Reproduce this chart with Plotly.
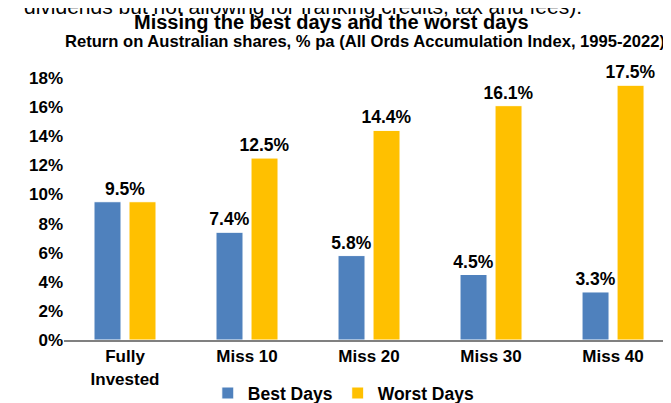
import plotly.graph_objects as go

categories = ["Fully<br>Invested", "Miss 10", "Miss 20", "Miss 30", "Miss 40"]
best_days = [9.5, 7.4, 5.8, 4.5, 3.3]
worst_days = [9.5, 12.5, 14.4, 16.1, 17.5]
tick_vals = [0, 2, 4, 6, 8, 10, 12, 14, 16, 18]
tick_text = [f"{v}%" for v in tick_vals]

FONT = "Liberation Sans, Arial, sans-serif"
BLUE = "#4F81BD"
YELLOW = "#FFC000"
LABEL_SIZE = 17.5

def lab(vals):
    return [""] + [f"<b>{v:.1f}%</b>" for v in vals[1:]]

fig = go.Figure()
fig.add_trace(go.Bar(
    name="<b>Best Days</b>", x=categories, y=best_days,
    marker=dict(color=BLUE, line=dict(color="white", width=1)),
    text=lab(best_days), textposition="outside", cliponaxis=False, constraintext="none",
    textfont=dict(family=FONT, size=LABEL_SIZE, color="black"),
))
fig.add_trace(go.Bar(
    name="<b>Worst Days</b>", x=categories, y=worst_days,
    marker=dict(color=YELLOW, line=dict(color="white", width=1)),
    text=lab(worst_days), textposition="outside", cliponaxis=False, constraintext="none",
    textfont=dict(family=FONT, size=LABEL_SIZE, color="black"),
))

fig.add_annotation(x=categories[0], y=best_days[0], text=f"<b>{best_days[0]:.1f}%</b>",
                   showarrow=False, yanchor="bottom", yshift=1,
                   font=dict(family=FONT, size=LABEL_SIZE, color="black"))

fig.add_annotation(xref="paper", yref="paper", x=0.393, y=1.271, xanchor="center", yanchor="middle",
                   text="dividends but not allowing for franking credits, tax and fees).",
                   showarrow=False, font=dict(family=FONT, size=21, color="black"))
fig.add_annotation(xref="paper", yref="paper", x=0.4407, y=1.2156, xanchor="center", yanchor="middle",
                   text="<b>Missing the best days and the worst days</b>",
                   showarrow=False, font=dict(family=FONT, size=20, color="black"))
fig.add_annotation(xref="paper", yref="paper", x=0.4967, y=1.141, xanchor="center", yanchor="middle",
                   text="<b>Return on Australian shares, % pa (All Ords Accumulation Index, 1995-2022)</b>",
                   showarrow=False, font=dict(family=FONT, size=16.6, color="black"))

fig.update_layout(
    width=663, height=395,
    margin=dict(l=56, r=0, t=70, b=63, autoexpand=False),
    paper_bgcolor="white", plot_bgcolor="white",
    barmode="group", bargap=0.426, bargroupgap=0.229,
    showlegend=True,
    legend=dict(orientation="h", xref="container", x=0.5065, xanchor="center",
                yref="container", y=0.025, yanchor="middle",
                font=dict(family=FONT, size=17.5, color="black"),
                itemwidth=30, traceorder="normal"),
    font=dict(family=FONT, color="black"),
)
fig.update_xaxes(showline=True, linecolor="#808080", linewidth=2, ticks="", automargin=False,
                 tickfont=dict(family=FONT, size=17, color="black"),
                 tickprefix="<b>", ticksuffix="</b>", range=[-0.5, 4.475])
fig.update_yaxes(range=[0, 18], tickvals=tick_vals, ticktext=[f"<b>{t}</b>" for t in tick_text],
                 showgrid=False, zeroline=False, showline=False, ticks="", automargin=False,
                 tickfont=dict(family=FONT, size=17, color="black"))

fig.write_html("out.html")
